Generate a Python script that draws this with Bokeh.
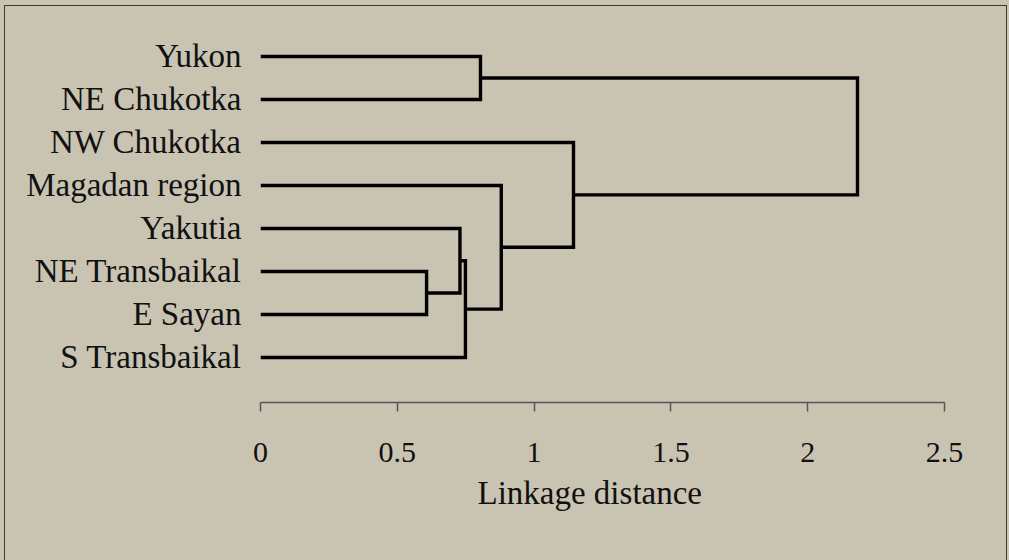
from bokeh.plotting import figure
from bokeh.models import Range1d, FixedTicker, NumeralTickFormatter, Title, InlineStyleSheet
from bokeh.embed import file_html
from bokeh.resources import INLINE

# ---- data ----
leaves = ["Yukon", "NE Chukotka", "NW Chukotka", "Magadan region",
          "Yakutia", "NE Transbaikal", "E Sayan", "S Transbaikal"]
# linkage: cluster ids 0..7 are leaves, new clusters numbered 8, 9, ...
merge_a = [5, 4, 9, 0, 3, 2, 11]
merge_b = [6, 8, 7, 1, 10, 12, 13]
merge_h = [0.607, 0.729, 0.749, 0.804, 0.880, 1.144, 2.182]
x_ticks = [0, 0.5, 1, 1.5, 2, 2.5]
x_label = "Linkage distance"

BG = "#c9c4b1"
FONT = "Liberation Serif"

n = len(leaves)
ypos = {i: float(n - i) for i in range(n)}
hpos = {i: 0.0 for i in range(n)}
xs, ys = [], []
for k, (a, b, h) in enumerate(zip(merge_a, merge_b, merge_h)):
    cid = n + k
    xs.append([hpos[a], h, h, hpos[b]])
    ys.append([ypos[a], ypos[a], ypos[b], ypos[b]])
    ypos[cid] = (ypos[a] + ypos[b]) / 2
    hpos[cid] = h

p = figure(width=1009, height=560, output_backend="svg", toolbar_location=None,
           x_range=Range1d(0, 2.5), y_range=Range1d(-0.047, 8.837),
           min_border_left=260, min_border_right=65,
           min_border_top=20, min_border_bottom=158)
p.background_fill_color = BG
p.border_fill_color = BG
p.outline_line_color = None
p.xgrid.visible = False
p.ygrid.visible = False
p.stylesheets = [InlineStyleSheet(css=(
    ":host { background-color: " + BG + "; } "
    ":host::after { content: ''; position: absolute; left: 4px; top: 5px; "
    "right: 2px; bottom: 0px; border: 1.5px solid #3a3a3a; border-bottom: none; "
    "pointer-events: none; z-index: 1000; box-sizing: border-box; }"))]

p.multi_line(xs, ys, line_color="black", line_width=3.4, line_join="miter", line_cap="butt")

xa = p.xaxis[0]
xa.ticker = FixedTicker(ticks=x_ticks)
xa.formatter = NumeralTickFormatter(format="0.[0]")
xa.axis_line_color = "#555555"
xa.axis_line_width = 1.5
xa.major_tick_line_color = "#555555"
xa.major_tick_line_width = 1.5
xa.major_tick_in = 0
xa.major_tick_out = 9
xa.minor_tick_line_color = None
xa.major_label_standoff = 31
xa.major_label_text_font = FONT
xa.major_label_text_font_size = "30px"
xa.major_label_text_color = "#111111"

ya = p.yaxis[0]
ya.ticker = FixedTicker(ticks=[float(n - i) for i in range(n)])
ya.major_label_overrides = {n - i: leaves[i] for i in range(n)}
ya.axis_line_color = None
ya.major_tick_line_color = None
ya.minor_tick_line_color = None
ya.major_label_standoff = 13
ya.major_label_text_font = FONT
ya.major_label_text_font_size = "33px"
ya.major_label_text_color = "#111111"

p.add_layout(Title(text=x_label, align="left", offset=217, standoff=17,
                   text_font=FONT, text_font_size="33px", text_font_style="normal",
                   text_color="#111111"), "below")

open("out.html", "w").write(file_html(p, INLINE))
